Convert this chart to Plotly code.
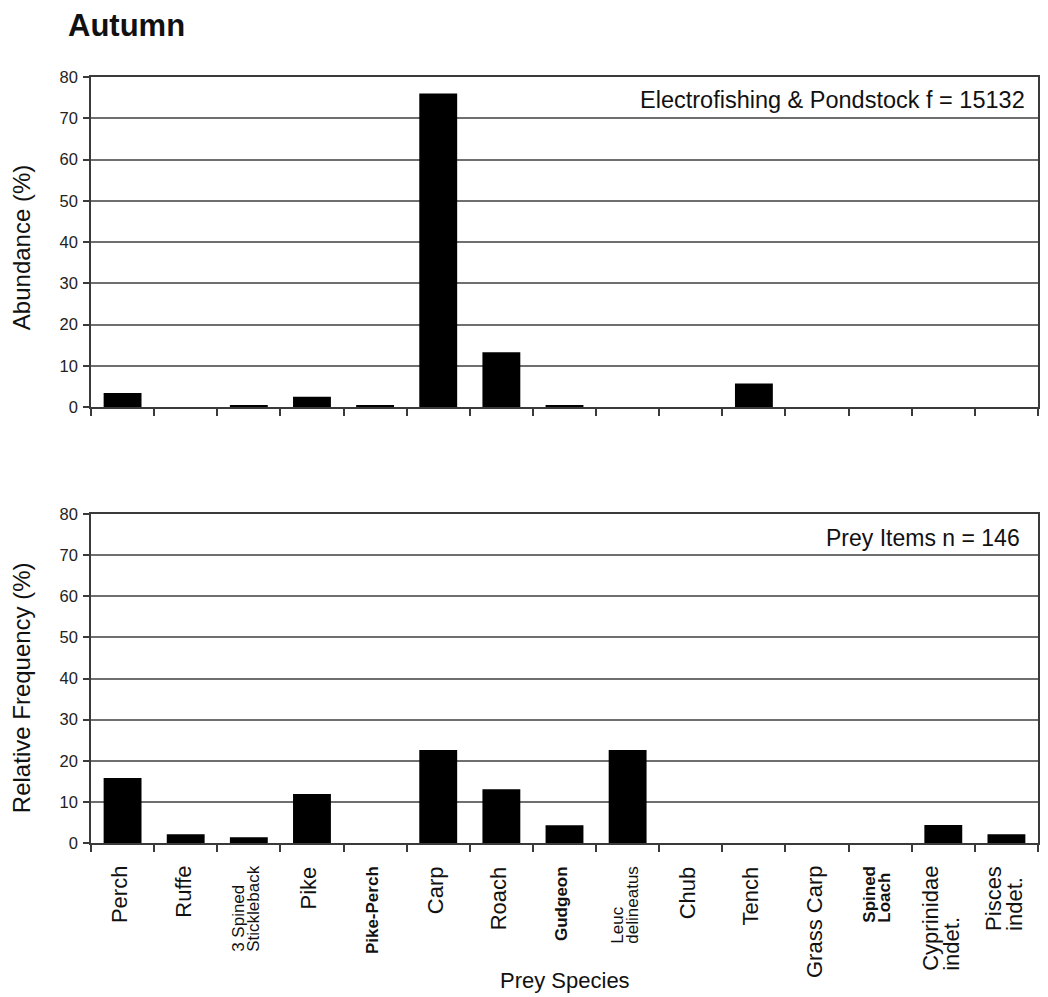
import plotly.graph_objects as go

# ---------------- data ----------------
species = ["Perch", "Ruffe", "3 Spined Stickleback", "Pike", "Pike-Perch", "Carp", "Roach",
           "Gudgeon", "Leuc delineatus", "Chub", "Tench", "Grass Carp", "Spined Loach",
           "Cyprinidae indet.", "Pisces indet."]
abundance = [3.4, 0, 0.5, 2.5, 0.5, 76.0, 13.3, 0.5, 0, 0, 5.7, 0, 0, 0, 0]
rel_freq = [15.8, 2.1, 1.4, 11.9, 0, 22.6, 13.1, 4.3, 22.6, 0, 0, 0, 0, 4.4, 2.1]

# tick label lines, bold flag, font size (px)
label_lines = [["Perch"], ["Ruffe"], ["3 Spined", "Stickleback"], ["Pike"], ["Pike-Perch"],
               ["Carp"], ["Roach"], ["Gudgeon"], ["Leuc", "delineatus"], ["Chub"], ["Tench"],
               ["Grass Carp"], ["Spined", "Loach"], ["Cyprinidae", "indet."], ["Pisces", "indet."]]
label_bold = [False, False, False, False, True, False, False, True, False, False, False,
              False, True, False, False]
label_size = [22, 22, 17, 22, 17, 22, 22, 17, 17, 22, 22, 22, 17, 22, 22]

yticks = [0, 10, 20, 30, 40, 50, 60, 70, 80]
top_note = "Electrofishing & Pondstock f = 15132"
bottom_note = "Prey Items n = 146"

# ---------------- layout geometry (page pixels; page body has an 8px margin) ----------------
OFF = 8
W, H = 1048 - OFF, 997 - OFF
PLOT_L, PLOT_R, PLOT_T, PLOT_B = 91, 1040, 77, 843   # page pixels
L = PLOT_L - OFF
R = W - (PLOT_R - OFF)
T = PLOT_T - OFF
B = H - (PLOT_B - OFF)
ph = H - T - B
pw = W - L - R


def py(pix):
    return (PLOT_B - pix) / ph


def px(pix):
    return (pix - PLOT_L) / pw


FONT = "Liberation Sans, Arial, sans-serif"
GRID = "#6f6f6f"
AX = "#3a3a3a"

fig = go.Figure()
fig.add_trace(go.Bar(x=species, y=abundance, marker=dict(color="black", line=dict(width=0)),
                     xaxis="x", yaxis="y", showlegend=False))
fig.add_trace(go.Bar(x=species, y=rel_freq, marker=dict(color="black", line=dict(width=0)),
                     xaxis="x2", yaxis="y2", showlegend=False))

xcommon = dict(type="category", categoryorder="array", categoryarray=species, range=[-0.5, 14.5],
               showline=True, linecolor=AX, linewidth=1.5, mirror=True, ticks="outside",
               tickson="boundaries", ticklen=7, tickwidth=1.5, tickcolor=AX, showgrid=False,
               showticklabels=False, fixedrange=True)
ycommon = dict(range=[0, 80], tickvals=yticks, showline=True, linecolor=AX, linewidth=1.5, mirror=True,
               ticks="outside", ticklen=6, tickwidth=1.5, tickcolor=AX, showgrid=True, gridcolor=GRID,
               gridwidth=1.5, zeroline=False, tickfont=dict(family=FONT, size=16.5, color="#222"),
               ticklabelstandoff=2)

fig.update_layout(
    width=W, height=H, margin=dict(l=L, r=R, t=T, b=B),
    paper_bgcolor="white", plot_bgcolor="white", bargap=0.40,
    font=dict(family=FONT, color="#111"),
    xaxis=dict(domain=[0, 1], anchor="y", **xcommon),
    yaxis=dict(domain=[py(407), 1], anchor="x", **ycommon),
    xaxis2=dict(domain=[0, 1], anchor="y2", **xcommon),
    yaxis2=dict(domain=[0, py(514)], anchor="x2", **ycommon),
)

ann = []
# title
ann.append(dict(text="<b>Autumn</b>", xref="paper", yref="paper", x=px(66), y=py(25),
                xanchor="left", yanchor="middle", showarrow=False,
                font=dict(family=FONT, size=31, color="#111")))
# y-axis titles
ann.append(dict(text="Abundance (%)", xref="paper", yref="paper", x=px(22), y=py(248),
                xanchor="center", yanchor="middle", textangle=-90, showarrow=False,
                font=dict(family=FONT, size=24, color="#111")))
ann.append(dict(text="Relative Frequency (%)", xref="paper", yref="paper", x=px(21), y=py(688),
                xanchor="center", yanchor="middle", textangle=-90, showarrow=False,
                font=dict(family=FONT, size=24, color="#111")))
# x-axis title
ann.append(dict(text="Prey Species", xref="paper", yref="paper", x=px(566), y=py(980),
                xanchor="center", yanchor="middle", showarrow=False,
                font=dict(family=FONT, size=22, color="#111")))
# notes
ann.append(dict(text=top_note, xref="paper", yref="paper", x=px(1029), y=py(100),
                xanchor="right", yanchor="middle", showarrow=False,
                font=dict(family=FONT, size=23.5, color="#111")))
ann.append(dict(text=bottom_note, xref="paper", yref="paper", x=px(1024), y=py(538),
                xanchor="right", yanchor="middle", showarrow=False,
                font=dict(family=FONT, size=23, color="#111")))

# category labels (rotated, lines left-aligned, tight line spacing)
for cat, lines, bold, size in zip(species, label_lines, label_bold, label_size):
    parts = []
    for ln in lines:
        t = f"<b>{ln}</b>" if bold else ln
        parts.append(f'<span style="font-size:{size}px">{t}</span>')
    base = size if len(lines) == 1 else round(size * 0.72)
    ann.append(dict(text="<br>".join(parts), xref="x2", yref="paper", x=cat, y=py(865),
                    xanchor="center", yanchor="top", textangle=-90, align="left",
                    showarrow=False, borderpad=0, xshift=-3,
                    font=dict(family=FONT, size=base, color="#111")))

fig.update_layout(annotations=ann)
fig.write_html("out.html")
